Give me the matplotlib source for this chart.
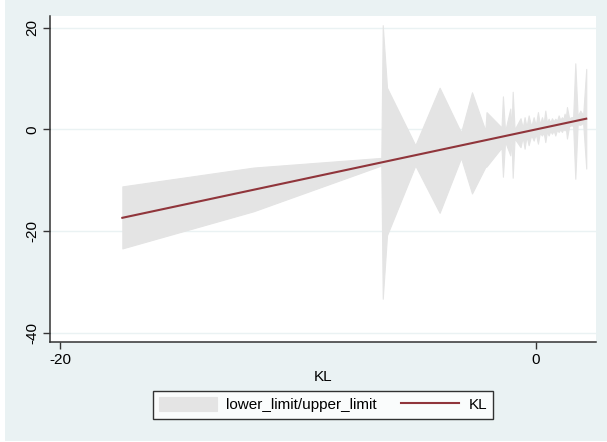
import matplotlib
matplotlib.use('Agg')
import matplotlib.pyplot as plt
from matplotlib.patches import Rectangle

plt.rcParams['font.family'] = ['Liberation Sans', 'DejaVu Sans']

# KL values with the lower / upper limits of the band
kl = [-17.38, -11.87, -6.50, -6.44, -6.26, -5.07, -4.05, -3.15, -2.69, -2.13,
      -2.08, -1.45, -1.39, -1.30, -1.08, -1.03, -0.98, -0.90, -0.65, -0.56,
      -0.48, -0.40, -0.31, -0.20, -0.10, -0.01, 0.08, 0.16, 0.25, 0.32,
      0.39, 0.46, 0.53, 0.60, 0.67, 0.74, 0.81, 0.88, 0.95, 1.02,
      1.09, 1.15, 1.20, 1.25, 1.30, 1.39, 1.48, 1.56, 1.65, 1.75,
      1.86, 1.98, 2.11]
lower_limit = [-23.4, -16.1, -7.1, -33.3, -20.8, -7.1, -16.4, -5.6, -12.6, -7.4,
               -7.3, -3.6, -9.3, -2.4, -5.1, -2.0, -9.5, -1.8, -3.5, -1.5,
               -3.8, -1.3, -3.1, -1.1, -2.2, -0.9, -2.8, -0.7, -1.2, -0.6,
               -2.5, -0.4, -1.2, -0.3, -0.85, -0.2, -1.2, -0.1, -0.5, 0.0,
               -0.5, 0.2, -0.2, 0.4, -1.8, 0.6, 0.8, 0.7, -9.7, 1.0,
               0.9, 1.3, -7.7]
upper_limit = [-11.2, -7.5, -5.6, 20.5, 8.2, -3.1, 8.2, -0.6, 7.3, -0.2,
               3.4, 0.4, 6.5, -0.4, 4.1, -0.2, 7.4, 0.0, 2.2, 0.3,
               2.4, 0.5, 2.75, 0.6, 2.4, 0.8, 3.4, 1.0, 2.4, 1.2,
               3.7, 1.3, 2.1, 1.4, 2.2, 1.6, 2.1, 1.7, 2.75, 1.9,
               2.4, 2.0, 3.1, 2.1, 4.4, 2.2, 2.4, 2.4, 13.0, 2.6,
               3.7, 2.8, 11.9]

x_ticks = [-20, 0]
y_ticks = [-40, -20, 0, 20]

bg = '#EAF2F3'
band_color = '#E4E4E4'
line_color = '#90353B'
fs = 11

fig = plt.figure(figsize=(6.07, 4.42), dpi=100)
fig.patch.set_facecolor(bg)
# thin white strip on the left edge and bottom
fig.add_artist(Rectangle((0, 0), 5 / 607, 1, transform=fig.transFigure,
                         facecolor='white', edgecolor='none'))
fig.add_artist(Rectangle((0, 0), 1, 1 / 442, transform=fig.transFigure,
                         facecolor='white', edgecolor='none'))

ax = fig.add_axes([50 / 607, 1 - 342 / 442, 546 / 607, 326 / 442])
ax.set_facecolor('white')

band = ax.fill_between(kl, lower_limit, upper_limit, facecolor=band_color,
                       edgecolor=band_color, linewidth=0.8,
                       label='lower_limit/upper_limit', zorder=2)
line, = ax.plot(kl, kl, color=line_color, lw=1.5, label='KL', zorder=3)

ax.set_xlim(-20.42, 2.52)
ax.set_ylim(-41.8, 22.3)
ax.set_xticks(x_ticks)
ax.set_yticks(y_ticks)
ax.set_xticklabels([str(t) for t in x_ticks], fontsize=fs)
ax.set_yticklabels([str(t) for t in y_ticks], fontsize=fs,
                   rotation=90, va='center')
ax.tick_params(axis='both', direction='out', length=5, width=1,
               color='#333333', pad=3)

ax.grid(axis='y', color=bg, lw=1, zorder=0)
ax.set_axisbelow(True)

for side in ['top', 'right']:
    ax.spines[side].set_visible(False)
for side in ['left', 'bottom']:
    ax.spines[side].set_color('#333333')
    ax.spines[side].set_linewidth(1.1)

ax.set_xlabel('KL', fontsize=fs, labelpad=2)

leg = fig.legend(handles=[band, line], labels=['lower_limit/upper_limit', 'KL'],
                 loc='upper center', bbox_to_anchor=(323 / 607, 1 - 391 / 442),
                 ncol=2, fontsize=fs, frameon=True, fancybox=False,
                 handlelength=3.8, handleheight=1.05, handletextpad=0.6,
                 columnspacing=1.6, borderpad=0.4, borderaxespad=0)
leg.get_frame().set_edgecolor('black')
leg.get_frame().set_linewidth(1.0)
leg.get_frame().set_facecolor('white')

fig.savefig('out.png', dpi=100, facecolor=fig.get_facecolor())
